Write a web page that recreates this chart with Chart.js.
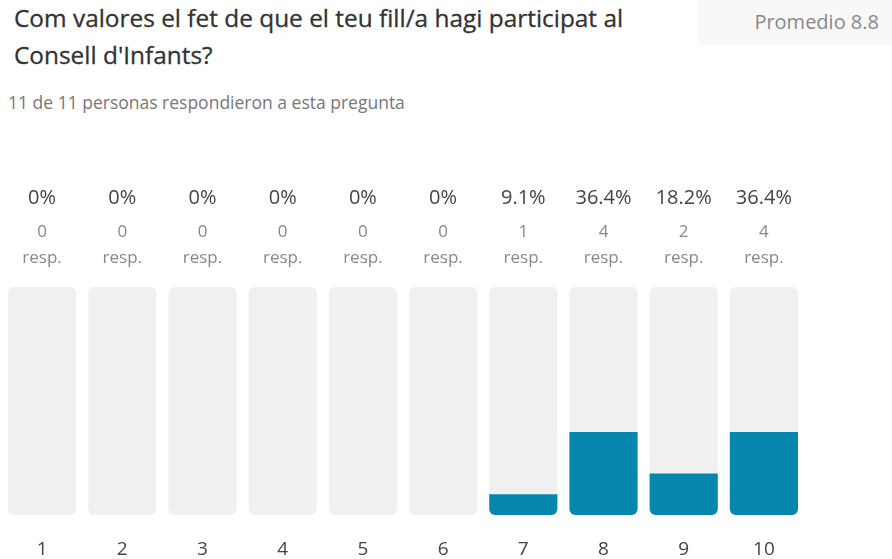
<!DOCTYPE html>
<html>
<head>
<meta charset="utf-8">
<script src="https://cdn.jsdelivr.net/npm/chart.js@4.4.1/dist/chart.umd.min.js"></script>
<style>
  body { margin: 0; background: #fff; font-family: "Open Sans", "Noto Sans", sans-serif; }
  #page { position: relative; width: 892px; height: 559px; overflow: hidden; }
  #title { position: absolute; left: 14px; top: -1px; font-size: 24.4px; color: #333; line-height: 37px; white-space: nowrap; -webkit-text-stroke: 0.3px #333; }
  #sub { position: absolute; left: 8px; top: 90px; font-size: 17.5px; color: #777; white-space: nowrap; }
  #badge { position: absolute; left: 697px; top: -8px; width: 210px; height: 53px; background: #f8f8f8; border-radius: 8px; }
  #badge span { position: absolute; right: 28px; top: 16px; font-size: 20px; color: #888; }
  #chart { position: absolute; left: 0; top: 170px; }
</style>
</head>
<body>
<div id="page">
  <div id="title">Com valores el fet de que el teu fill/a hagi participat al<br>Consell d'Infants?</div>
  <div id="badge"><span>Promedio 8.8</span></div>
  <div id="sub">11 de 11 personas respondieron a esta pregunta</div>
  <canvas id="chart" width="892" height="389"></canvas>
</div>
<script>
const scores = ["1", "2", "3", "4", "5", "6", "7", "8", "9", "10"];
const counts = [0, 0, 0, 0, 0, 0, 1, 4, 2, 4];
const percents = [0, 0, 0, 0, 0, 0, 9.1, 36.4, 18.2, 36.4];
const percentLabels = ["0%", "0%", "0%", "0%", "0%", "0%", "9.1%", "36.4%", "18.2%", "36.4%"];
const fullScale = scores.map(() => 100);

const topLabels = {
  id: "topLabels",
  afterDatasetsDraw(chart) {
    const { ctx, chartArea, scales } = chart;
    ctx.save();
    ctx.textAlign = "center";
    ctx.textBaseline = "middle";
    scores.forEach((s, i) => {
      const x = scales.x.getPixelForValue(i);
      ctx.fillStyle = "#444";
      ctx.font = '20px "Open Sans", sans-serif';
      ctx.fillText(percentLabels[i], x, chartArea.top - 89);
      ctx.fillStyle = "#888";
      ctx.font = '17px "Open Sans", sans-serif';
      ctx.fillText(String(counts[i]), x, chartArea.top - 55);
      ctx.fillText("resp.", x, chartArea.top - 29);
    });
    ctx.restore();
  },
};

const data = {
  labels: scores,
  datasets: [
    {
      data: percents,
      backgroundColor: "#0787ae",
      borderSkipped: false,
      borderRadius: { topLeft: 0, topRight: 0, bottomLeft: 6, bottomRight: 6 },
      grouped: false,
      order: 1,
    },
    {
      data: fullScale,
      backgroundColor: "#f0f0f0",
      borderSkipped: false,
      borderRadius: 6,
      grouped: false,
      order: 2,
    },
  ],
};

const options = {
  responsive: false,
  animation: false,
  layout: { padding: { top: 117, left: 2, right: 88, bottom: 0 } },
  datasets: { bar: { barPercentage: 0.85, categoryPercentage: 1 } },
  plugins: {
    legend: { display: false },
    tooltip: { enabled: false },
  },
  scales: {
    x: {
      grid: { display: false, drawTicks: false },
      border: { display: false },
      ticks: { color: "#444", font: { size: 19, family: '"Open Sans", sans-serif' }, padding: 23, maxRotation: 0 },
      afterFit: (scale) => { scale.height = 44; },
    },
    y: {
      display: false,
      min: 0,
      max: 100,
    },
  },
};

new Chart("chart", { type: "bar", data, options, plugins: [topLabels] });
</script>
</body>
</html>
